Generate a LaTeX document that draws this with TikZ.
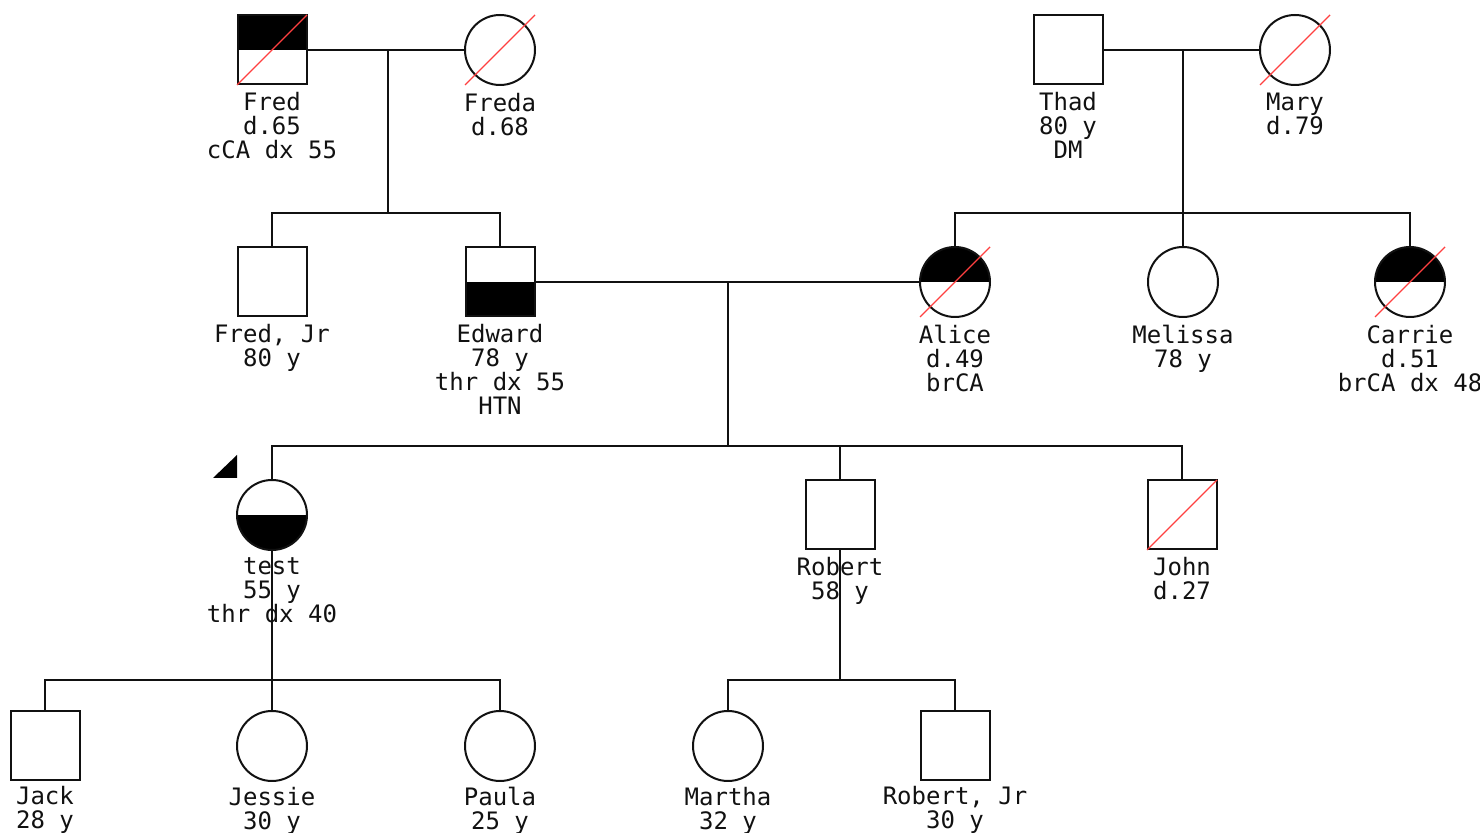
\documentclass[tikz,border=0pt]{standalone}
\usepackage{fontspec}
\newfontfamily\pedfont{DejaVu Sans Mono}
\usetikzlibrary{positioning,calc}
\definecolor{pedLine}{HTML}{111111}
\definecolor{pedFill}{HTML}{000000}
\definecolor{pedDead}{HTML}{FF4040}

% slash through a deceased person
\newcommand{\deadmark}[1]{%
    \draw[deadline] ($(#1.center)+(-35,35)$) -- ($(#1.center)+(35,-35)$);}

\begin{document}
\begin{tikzpicture}[
        x=0.5pt, y=-0.5pt,
        line width=1pt,
        draw=pedLine,
        male/.style={
            draw=pedLine,
            rectangle,
            minimum size=34.5pt,
            inner sep=0pt
        },
        female/.style={
            draw=pedLine,
            circle,
            minimum size=35pt,
            inner sep=0pt
        },
        tophalf/.style={
            path picture={\fill[pedFill] (path picture bounding box.west) rectangle (path picture bounding box.north east);}
        },
        bothalf/.style={
            path picture={\fill[pedFill] (path picture bounding box.south west) rectangle (path picture bounding box.east);}
        },
        lbl/.style={
            font=\pedfont\fontsize{12}{12}\selectfont,
            align=center,
            inner sep=0pt,
            text=pedLine
        },
        deadline/.style={
            draw=pedDead,
            line width=0.7pt
        }
    ]
    \useasboundingbox (0,0) rectangle (1480,833);

    % first generation
    \node[male, tophalf] (fred) at (272,50) {};
    \node[female] (freda) at (500,50) {};
    \node[male] (thad) at (1068,50) {};
    \node[female] (mary) at (1295,50) {};

    \node[lbl, below=3pt of fred] (fredL) {Fred\\d.65\\cCA dx 55};
    \node[lbl, below=3pt of freda] (fredaL) {Freda\\d.68};
    \node[lbl, below=3pt of thad] (thadL) {Thad\\80 y\\DM};
    \node[lbl, below=3pt of mary] (maryL) {Mary\\d.79};

    % second generation
    \node[male] (fredjr) at (272,282) {};
    \node[male, bothalf] (edward) at (500,282) {};
    \node[female, tophalf] (alice) at (955,282) {};
    \node[female] (melissa) at (1183,282) {};
    \node[female, tophalf] (carrie) at (1410,282) {};

    \node[lbl, below=3pt of fredjr] (fredjrL) {Fred, Jr\\80 y};
    \node[lbl, below=3pt of edward] (edwardL) {Edward\\78 y\\thr dx 55\\HTN};
    \node[lbl, below=3pt of alice] (aliceL) {Alice\\d.49\\brCA};
    \node[lbl, below=3pt of melissa] (melissaL) {Melissa\\78 y};
    \node[lbl, below=3pt of carrie] (carrieL) {Carrie\\d.51\\brCA dx 48};

    % third generation
    \node[female, bothalf] (test) at (272,515) {};
    \node[male] (robert) at (840,515) {};
    \node[male] (john) at (1182,515) {};

    \node[lbl, below=3pt of test] (testL) {test\\55 y\\thr dx 40};
    \node[lbl, below=3pt of robert] (robertL) {Robert\\58 y};
    \node[lbl, below=3pt of john] (johnL) {John\\d.27};

    % fourth generation
    \node[male] (jack) at (45,746) {};
    \node[female] (jessie) at (272,746) {};
    \node[female] (paula) at (500,746) {};
    \node[female] (martha) at (728,746) {};
    \node[male] (robertjr) at (955,746) {};

    \node[lbl, below=2pt of jack] (jackL) {Jack\\28 y};
    \node[lbl, below=2pt of jessie] (jessieL) {Jessie\\30 y};
    \node[lbl, below=2pt of paula] (paulaL) {Paula\\25 y};
    \node[lbl, below=2pt of martha] (marthaL) {Martha\\32 y};
    \node[lbl, below=2pt of robertjr] (robertjrL) {Robert, Jr\\30 y};

    % marriages and sibships
    \coordinate (m1) at (388,50);
    \coordinate (s1) at (388,213);
    \coordinate (m2) at (1183,50);
    \coordinate (s2) at (1183,213);
    \coordinate (m3) at (728,282);
    \coordinate (s3) at (728,446);
    \coordinate (s4) at (272,680);
    \coordinate (s5) at (840,680);

    \draw (fred) -- (freda);
    \draw (m1) -- (s1);
    \draw (fredjr) |- (s1) -| (edward);

    \draw (thad) -- (mary);
    \draw (m2) -- (s2);
    \draw (alice) |- (s2) -| (carrie);
    \draw (melissa) -- (s2);

    \draw (edward) -- (alice);
    \draw (m3) -- (s3);
    \draw (test) |- (s3) -| (john);
    \draw (robert.north) -- (robert.north |- s3);

    \draw (test) -- (s4);
    \draw (jack) |- (s4) -| (paula);
    \draw (jessie) -- (s4);

    \draw (robert) -- (s5);
    \draw (martha) |- (s5) -| (robertjr);

    % deceased
    \deadmark{fred}
    \deadmark{freda}
    \deadmark{mary}
    \deadmark{alice}
    \deadmark{carrie}
    \deadmark{john}

    % proband
    \fill[pedFill] (213,478) -- (237,478) -- (237,455) -- cycle;
\end{tikzpicture}
\end{document}
